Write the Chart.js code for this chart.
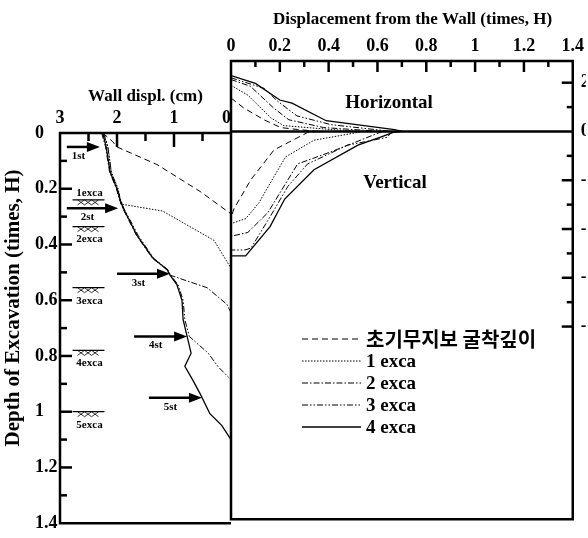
<!DOCTYPE html>
<html><head><meta charset="utf-8">
<script src="https://cdn.jsdelivr.net/npm/chart.js@4.4.1/dist/chart.umd.min.js"></script>
<style>
html,body{margin:0;padding:0;background:#fff;}
#wrap{position:relative;width:588px;height:538px;overflow:hidden;background:#fff;}
canvas{position:absolute;left:0;top:0;}
</style></head><body>
<div id="wrap"><canvas id="cL" width="588" height="538"></canvas><canvas id="cR" width="588" height="538"></canvas></div>
<script>
// ---------------- DATA ----------------
const seriesNames = ['초기무지보 굴착깊이', '1 exca', '2 exca', '3 exca', '4 exca'];

// Left panel: wall displacement (cm) vs depth (times, H)
const wallDepthInit = [0, 0.03, 0.05, 0.113, 0.21, 0.28, 0.29];
const wallDispInit  = [2.25, 2.08, 2.0, 1.30, 0.54, 0.07, 0.0];
const wallDepth1 = [0, 0.05, 0.14, 0.20, 0.255, 0.28, 0.385, 0.485];
const wallDisp1  = [2.24, 2.16, 2.10, 1.98, 1.93, 1.20, 0.30, 0.0];
const wallDepth2 = [0, 0.05, 0.14, 0.20, 0.237, 0.27, 0.367, 0.449, 0.49, 0.51, 0.555, 0.615, 0.645];
const wallDisp2  = [2.27, 2.20, 2.13, 2.01, 1.96, 1.90, 1.66, 1.38, 1.13, 1.07, 0.42, 0.07, 0.0];
const wallDepth3 = [0, 0.05, 0.14, 0.20, 0.237, 0.27, 0.367, 0.449, 0.49, 0.51, 0.544, 0.60, 0.67, 0.73, 0.79, 0.84, 0.885];
const wallDisp3  = [2.23, 2.16, 2.10, 1.99, 1.94, 1.88, 1.63, 1.36, 1.11, 1.06, 0.93, 0.84, 0.81, 0.73, 0.40, 0.22, 0.0];
const wallDepth4 = [0, 0.05, 0.14, 0.20, 0.237, 0.27, 0.367, 0.449, 0.49, 0.51, 0.544, 0.60, 0.67, 0.73, 0.79, 0.837, 0.883, 0.936, 1.007, 1.05, 1.10];
const wallDisp4  = [2.25, 2.19, 2.12, 2.0, 1.95, 1.89, 1.65, 1.37, 1.12, 1.07, 0.95, 0.86, 0.84, 0.77, 0.70, 0.81, 0.68, 0.54, 0.37, 0.16, 0.0];

// Right panel: horizontal ground displacement (above 0)
const horDistInit = [0, 0.053, 0.135, 0.204, 0.273, 0.36];
const horValInit  = [1.37, 0.96, 0.48, 0.16, 0.08, 0];
const horDist1 = [0, 0.069, 0.163, 0.216, 0.41, 0.54];
const horVal1  = [1.89, 1.49, 0.56, 0.24, 0.08, 0];
const horDist2 = [0, 0.08, 0.175, 0.237, 0.38, 0.62];
const horVal2  = [2.13, 1.85, 0.96, 0.48, 0.16, 0];
const horDist3 = [0, 0.135, 0.19, 0.27, 0.41, 0.66];
const horVal3  = [2.2, 1.77, 1.25, 0.64, 0.28, 0];
const horDist4 = [0, 0.10, 0.20, 0.25, 0.39, 0.67, 0.70];
const horVal4  = [2.29, 1.97, 1.29, 1.16, 0.44, 0.08, 0];

// Right panel: vertical ground displacement (below 0)
const verDistInit = [0.36, 0.314, 0.237, 0.176, 0.082, 0.012, 0];
const verValInit  = [0, -0.04, -0.44, -0.76, -1.97, -3.17, -3.53];
const verDist1 = [0.54, 0.34, 0.224, 0.176, 0.114, 0.061, 0];
const verVal1  = [0, -0.36, -1.04, -1.85, -2.93, -3.57, -3.78];
const verDist2 = [0.62, 0.408, 0.273, 0.224, 0.151, 0.069, 0];
const verVal2  = [0, -0.84, -1.33, -2.13, -3.33, -4.14, -4.30];
const verDist3 = [0.66, 0.64, 0.478, 0.314, 0.233, 0.163, 0.082, 0.057, 0];
const verVal3  = [0, -0.24, -0.56, -1.33, -2.25, -3.45, -4.78, -4.86, -4.86];
const verDist4 = [0.70, 0.665, 0.61, 0.52, 0.34, 0.22, 0.16, 0.06, 0];
const verVal4  = [0, -0.04, -0.24, -0.56, -1.57, -2.77, -3.9, -5.1, -5.1];

// Struts and excavation levels (left panel annotations)
const strutLabels = ['1st', '2st', '3st', '4st', '5st'];
const strutDepth  = [0.05, 0.27, 0.505, 0.73, 0.95];
const strutTail   = [2.88, 2.88, 2.0, 1.70, 1.44];
const strutHead   = [2.30, 1.98, 1.07, 0.77, 0.51];
const excaLabels  = ['1exca', '2exca', '3exca', '4exca', '5exca'];
const excaDepth   = [0.24, 0.336, 0.555, 0.78, 1.0];

// Tick values
const leftXTicks  = [0, 0.5, 1, 1.5, 2, 2.5, 3];
const leftYTicks  = [0, 0.1, 0.2, 0.3, 0.4, 0.5, 0.6, 0.7, 0.8, 0.9, 1.0, 1.1, 1.2, 1.3, 1.4];
const rightXTicks = [0, 0.1, 0.2, 0.3, 0.4, 0.5, 0.6, 0.7, 0.8, 0.9, 1.0, 1.1, 1.2, 1.3, 1.4];
const rightYTicks = [-8, -7, -6, -5, -4, -3, -2, -1, 0, 1, 2];

// ---------------- STYLE ----------------
const FONT = "'Liberation Serif','Times New Roman',serif";
const dashStyles = [[6, 4], [1.5, 1.5], [6, 2, 1.5, 2], [6, 2, 1.5, 2, 1.5, 2], []];
const lineWidths = [1, 1, 1, 1, 1.3];

function pts(xs, ys) { return xs.map((v, i) => ({x: v, y: ys[i]})); }
function isMult(v, step) { const r = v / step; return Math.abs(r - Math.round(r)) < 1e-6; }
function fmt(v) { return String(Math.round(v * 10) / 10); }
function seg(ctx, x1, y1, x2, y2) { ctx.beginPath(); ctx.moveTo(x1, y1); ctx.lineTo(x2, y2); ctx.stroke(); }
function ds(data, i) {
  return {data, showLine: true, borderColor: '#000', borderWidth: lineWidths[i], borderDash: dashStyles[i],
          pointRadius: 0, fill: false, tension: 0};
}

// ---------------- LEFT CHART ----------------
const leftDeco = {
  id: 'leftDeco',
  afterDatasetsDraw(chart) {
    const ctx = chart.ctx, xs = chart.scales.x, ys = chart.scales.y;
    const L = xs.getPixelForValue(3), R = xs.getPixelForValue(0);
    const T = ys.getPixelForValue(0), B = ys.getPixelForValue(1.4);
    ctx.save();
    ctx.strokeStyle = '#000'; ctx.fillStyle = '#000';
    ctx.lineWidth = 2.5; ctx.lineJoin = 'miter';
    ctx.beginPath(); ctx.moveTo(R, T); ctx.lineTo(L, T); ctx.lineTo(L, B); ctx.lineTo(R, B); ctx.stroke();
    ys.ticks.forEach(t => { const v = t.value; if (v <= 1e-9 || v >= 1.4 - 1e-9) return;
      const p = ys.getPixelForValue(v); seg(ctx, L, p, L + (isMult(v, 0.2) ? 12 : 7), p); });
    xs.ticks.forEach(t => { const v = t.value; if (v <= 1e-9 || v >= 3 - 1e-9) return;
      const p = xs.getPixelForValue(v); seg(ctx, p, T, p, T + (isMult(v, 1) ? 14 : 8)); });
    // struts (arrows)
    ctx.font = 'bold 11px ' + FONT; ctx.textAlign = 'center'; ctx.textBaseline = 'middle';
    strutLabels.forEach((lab, i) => {
      const py = ys.getPixelForValue(strutDepth[i]);
      const x1 = xs.getPixelForValue(strutTail[i]), x2 = xs.getPixelForValue(strutHead[i]);
      ctx.lineWidth = 2.5; seg(ctx, x1, py, x2 - 10, py);
      ctx.beginPath(); ctx.moveTo(x2, py); ctx.lineTo(x2 - 13, py - 5); ctx.lineTo(x2 - 13, py + 5); ctx.closePath(); ctx.fill();
      ctx.fillText(lab, (x1 + x2) / 2 - 5, py + 9);
    });
    // excavation levels
    excaLabels.forEach((lab, i) => {
      const py = ys.getPixelForValue(excaDepth[i]);
      const xa = xs.getPixelForValue(2.78), xb = xs.getPixelForValue(2.22);
      ctx.lineWidth = 1.2; seg(ctx, xa, py, xb, py);
      ctx.lineWidth = 0.8;
      for (let k = 0; k < 3; k++) { const bx = xa + 5 + k * 7; seg(ctx, bx, py, bx + 7, py + 5); seg(ctx, bx + 7, py, bx, py + 5); }
      ctx.fillText(lab, (xa + xb) / 2 + 1, i === 0 ? py - 7 : py + 13);
    });
    // y axis title
    ctx.font = 'bold 21px ' + FONT;
    ctx.translate(14, 308); ctx.rotate(-Math.PI / 2);
    ctx.fillText('Depth of Excavation (times, H)', 0, 0);
    ctx.restore();
  }
};

new Chart(document.getElementById('cL'), {
  type: 'scatter',
  data: { datasets: [
    ds(pts(wallDispInit, wallDepthInit), 0),
    ds(pts(wallDisp1, wallDepth1), 1),
    ds(pts(wallDisp2, wallDepth2), 2),
    ds(pts(wallDisp3, wallDepth3), 3),
    ds(pts(wallDisp4, wallDepth4), 4)
  ]},
  options: {
    responsive: false, animation: false,
    layout: { padding: { left: 35, top: 73, right: 357, bottom: 9 } },
    plugins: { legend: { display: false }, tooltip: { enabled: false } },
    scales: {
      x: { type: 'linear', position: 'top', reverse: true, min: 0, max: 3,
           afterBuildTicks: s => { s.ticks = leftXTicks.map(v => ({value: v})); },
           afterFit: s => { s.height = 60; },
           grid: { display: false, drawTicks: false }, border: { display: false },
           ticks: { autoSkip: false, maxRotation: 0, minRotation: 0, padding: 4, color: '#000',
                    font: { family: FONT, size: 18, weight: 'bold' },
                    callback: v => isMult(v, 1) ? (Math.abs(v) < 1e-9 ? '0\u2002' : String(Math.round(v))) : '' },
           title: { display: true, text: 'Wall displ. (cm)', color: '#000', padding: { top: 13, bottom: 0 },
                    font: { family: FONT, size: 17, weight: 'bold' } } },
      y: { type: 'linear', position: 'left', reverse: true, min: 0, max: 1.4,
           afterBuildTicks: s => { s.ticks = leftYTicks.map(v => ({value: v})); },
           afterFit: s => { s.width = 25; },
           grid: { display: false, drawTicks: false }, border: { display: false },
           ticks: { autoSkip: false, crossAlign: 'far', padding: 4, color: '#000',
                    font: { family: FONT, size: 18, weight: 'bold' },
                    callback: v => isMult(v, 0.2) ? fmt(v) : '' } }
    }
  },
  plugins: [leftDeco]
});

// ---------------- RIGHT CHART ----------------
const legendRows = [339, 361, 383, 405, 427];
const rightDeco = {
  id: 'rightDeco',
  afterDatasetsDraw(chart) {
    const ctx = chart.ctx, xs = chart.scales.x, ys = chart.scales.y;
    const L = xs.getPixelForValue(0), R = xs.getPixelForValue(1.4);
    const T = chart.chartArea.top, B = chart.chartArea.bottom, Z = ys.getPixelForValue(0);
    ctx.save();
    ctx.strokeStyle = '#000'; ctx.fillStyle = '#000';
    ctx.lineWidth = 2.5; ctx.lineJoin = 'miter';
    ctx.beginPath(); ctx.rect(L, T, R - L, B - T); ctx.stroke();
    seg(ctx, L, Z, R, Z);
    xs.ticks.forEach(t => { const v = t.value; if (v <= 1e-9 || v >= 1.4 - 1e-9) return;
      const p = xs.getPixelForValue(v); seg(ctx, p, T, p, T + (isMult(v, 0.2) ? 11 : 6)); });
    ys.ticks.forEach(t => { const v = t.value; if (Math.abs(v) < 1e-9) return;
      const p = ys.getPixelForValue(v); seg(ctx, R, p, R - (isMult(v, 2) ? 11 : 6), p); });
    ctx.textAlign = 'center'; ctx.textBaseline = 'middle';
    ctx.font = 'bold 19px ' + FONT;
    ctx.fillText('Horizontal', 389, 103);
    ctx.fillText('Vertical', 395, 183);
    // legend
    legendRows.forEach((y, i) => {
      ctx.lineWidth = lineWidths[i]; ctx.setLineDash(dashStyles[i]);
      seg(ctx, 302, y, 361, y);
      ctx.setLineDash([]);
      ctx.textAlign = 'left';
      ctx.font = i === 0 ? "bold 20px 'Noto Sans CJK KR', sans-serif" : 'bold 19px ' + FONT;
      ctx.fillText(seriesNames[i], 366, y + (i === 0 ? 0 : 1));
    });
    ctx.restore();
  }
};

new Chart(document.getElementById('cR'), {
  type: 'scatter',
  data: { datasets: [
    ds(pts(horDistInit, horValInit), 0), ds(pts(horDist1, horVal1), 1), ds(pts(horDist2, horVal2), 2),
    ds(pts(horDist3, horVal3), 3), ds(pts(horDist4, horVal4), 4),
    ds(pts(verDistInit, verValInit), 0), ds(pts(verDist1, verVal1), 1), ds(pts(verDist2, verVal2), 2),
    ds(pts(verDist3, verVal3), 3), ds(pts(verDist4, verVal4), 4)
  ]},
  options: {
    responsive: false, animation: false,
    layout: { padding: { left: 231, top: 0, right: 0, bottom: 9 } },
    plugins: { legend: { display: false }, tooltip: { enabled: false } },
    scales: {
      x: { type: 'linear', position: 'top', min: 0, max: 1.4,
           afterBuildTicks: s => { s.ticks = rightXTicks.map(v => ({value: v})); },
           afterFit: s => { s.height = 61; },
           grid: { display: false, drawTicks: false }, border: { display: false },
           ticks: { autoSkip: false, maxRotation: 0, minRotation: 0, padding: 4, color: '#000',
                    font: { family: FONT, size: 18, weight: 'bold' },
                    callback: v => isMult(v, 0.2) ? fmt(v) : '' },
           title: { display: true, text: '\u2003 Displacement from the Wall (times, H)', color: '#000',
                    padding: { top: 9, bottom: 0 }, font: { family: FONT, size: 17, weight: 'bold' } } },
      y: { type: 'linear', position: 'right', min: -15.9, max: 2.89,
           afterBuildTicks: s => { s.ticks = rightYTicks.map(v => ({value: v})); },
           afterFit: s => { s.width = 13; },
           grid: { display: false, drawTicks: false }, border: { display: false },
           ticks: { autoSkip: false, padding: 8, color: '#000',
                    font: { family: FONT, size: 18, weight: 'bold' },
                    callback: v => isMult(v, 2) ? String(v) : '' } }
    }
  },
  plugins: [rightDeco]
});
</script>
</body></html>
